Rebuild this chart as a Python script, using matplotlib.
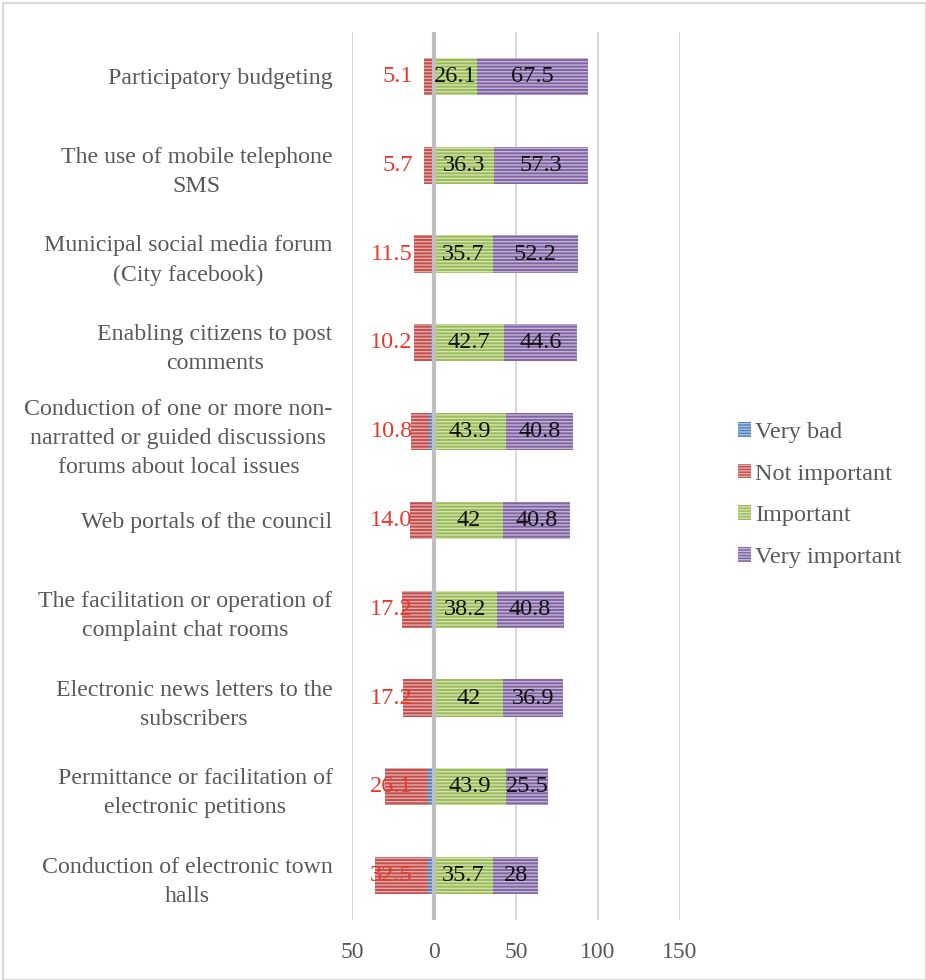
import matplotlib
matplotlib.use("Agg")
import matplotlib.pyplot as plt
from matplotlib.patches import Rectangle, Patch
import numpy as np

categories = [
    "Participatory budgeting",
    "The use of mobile telephone\nSMS",
    "Municipal social media forum\n(City facebook)",
    "Enabling citizens to post\ncomments",
    "Conduction of one or more non-\nnarratted or guided discussions\nforums about local issues",
    "Web portals of the council",
    "The facilitation or operation of\ncomplaint chat rooms",
    "Electronic news letters to the\nsubscribers",
    "Permittance or facilitation of\nelectronic petitions",
    "Conduction of electronic town\nhalls",
]
very_bad = [1.0, 0.7, 0.5, 1.8, 3.0, 0.9, 2.5, 1.5, 3.7, 3.4]
not_important = [5.1, 5.7, 11.5, 10.2, 10.8, 14.0, 17.2, 17.2, 26.1, 32.5]
important = [26.1, 36.3, 35.7, 42.7, 43.9, 42, 38.2, 42, 43.9, 35.7]
very_important = [67.5, 57.3, 52.2, 44.6, 40.8, 40.8, 40.8, 36.9, 25.5, 28]
series_names = ["Very bad", "Not important", "Important", "Very important"]
x_ticks = [-50, 0, 50, 100, 150]
x_tick_labels = ["50", "0", "50", "100", "150"]

colors = ["#4f81bd", "#c0504d", "#9bbb59", "#8064a2"]
stripe = ["#a9c1e0", "#e6aaa8", "#d2e3b0", "#c4b5d6"]

plt.rcParams['font.family'] = ['Liberation Serif', 'DejaVu Serif']
plt.rcParams['hatch.linewidth'] = 1.0

fig = plt.figure(figsize=(9.26, 9.8), dpi=100)
ax = fig.add_axes([352/926, 60/980, (680-352)/926, (920-32)/980])

y = np.arange(len(categories))
vb = np.array(very_bad)
ni = np.array(not_important)
im = np.array(important)
vi = np.array(very_important)
h = 0.42
hatch = '-----'

ax.barh(y, vb, left=-vb, height=h, color=colors[0], edgecolor=stripe[0], linewidth=0, hatch=hatch, zorder=2)
ax.barh(y, ni, left=-(vb + ni), height=h, color=colors[1], edgecolor=stripe[1], linewidth=0, hatch=hatch, zorder=2)
ax.barh(y, im, left=0, height=h, color=colors[2], edgecolor=stripe[2], linewidth=0, hatch=hatch, zorder=2)
ax.barh(y, vi, left=im, height=h, color=colors[3], edgecolor=stripe[3], linewidth=0, hatch=hatch, zorder=2)

for i in range(len(categories)):
    ax.text(-13, y[i], "{:.1f}".format(ni[i]), ha='right', va='center', fontsize=17.5, color='#e8392b', zorder=5)
    ax.text(im[i] / 2, y[i], "{:g}".format(im[i]), ha='center', va='center', fontsize=17.5, color='#111111', zorder=5)
    ax.text(im[i] + vi[i] / 2, y[i], "{:g}".format(vi[i]), ha='center', va='center', fontsize=17.5, color='#111111', zorder=5)

ax.set_xlim(-50, 150)
ax.set_ylim(len(categories) - 0.5, -0.5)
for t in x_ticks:
    if t != 0:
        ax.axvline(t, color='#d9d9d9', lw=1.5, zorder=1)
ax.axvline(0, color='#bfbfbf', lw=3, zorder=3)

ax.set_xticks(x_ticks)
ax.set_xticklabels(x_tick_labels, fontsize=17, color='#595959')
ax.set_yticks(y)
ax.set_yticklabels(categories, fontsize=17.2, color='#595959', multialignment='center', linespacing=1.5)
ax.tick_params(axis='both', length=0)
ax.tick_params(axis='y', pad=14)
ax.tick_params(axis='x', pad=16)
for s in ax.spines.values():
    s.set_visible(False)
ax.patch.set_alpha(0)

handles = [Patch(facecolor=colors[k], edgecolor=stripe[k], linewidth=0, hatch='------') for k in range(4)]
leg = fig.legend(handles, series_names, loc='center left', bbox_to_anchor=(716/926, 1 - 495/980),
                 frameon=False, fontsize=17.5, handlelength=0.55, handleheight=0.55,
                 handletextpad=0.15, labelspacing=0.85, labelcolor='#595959')

fig.patches.append(Rectangle((3/926, 0), 1 - 3/926, 1 - 3/980, transform=fig.transFigure,
                             fill=False, edgecolor='#d9d9d9', lw=1.5))

fig.savefig("out.png", dpi=100)
